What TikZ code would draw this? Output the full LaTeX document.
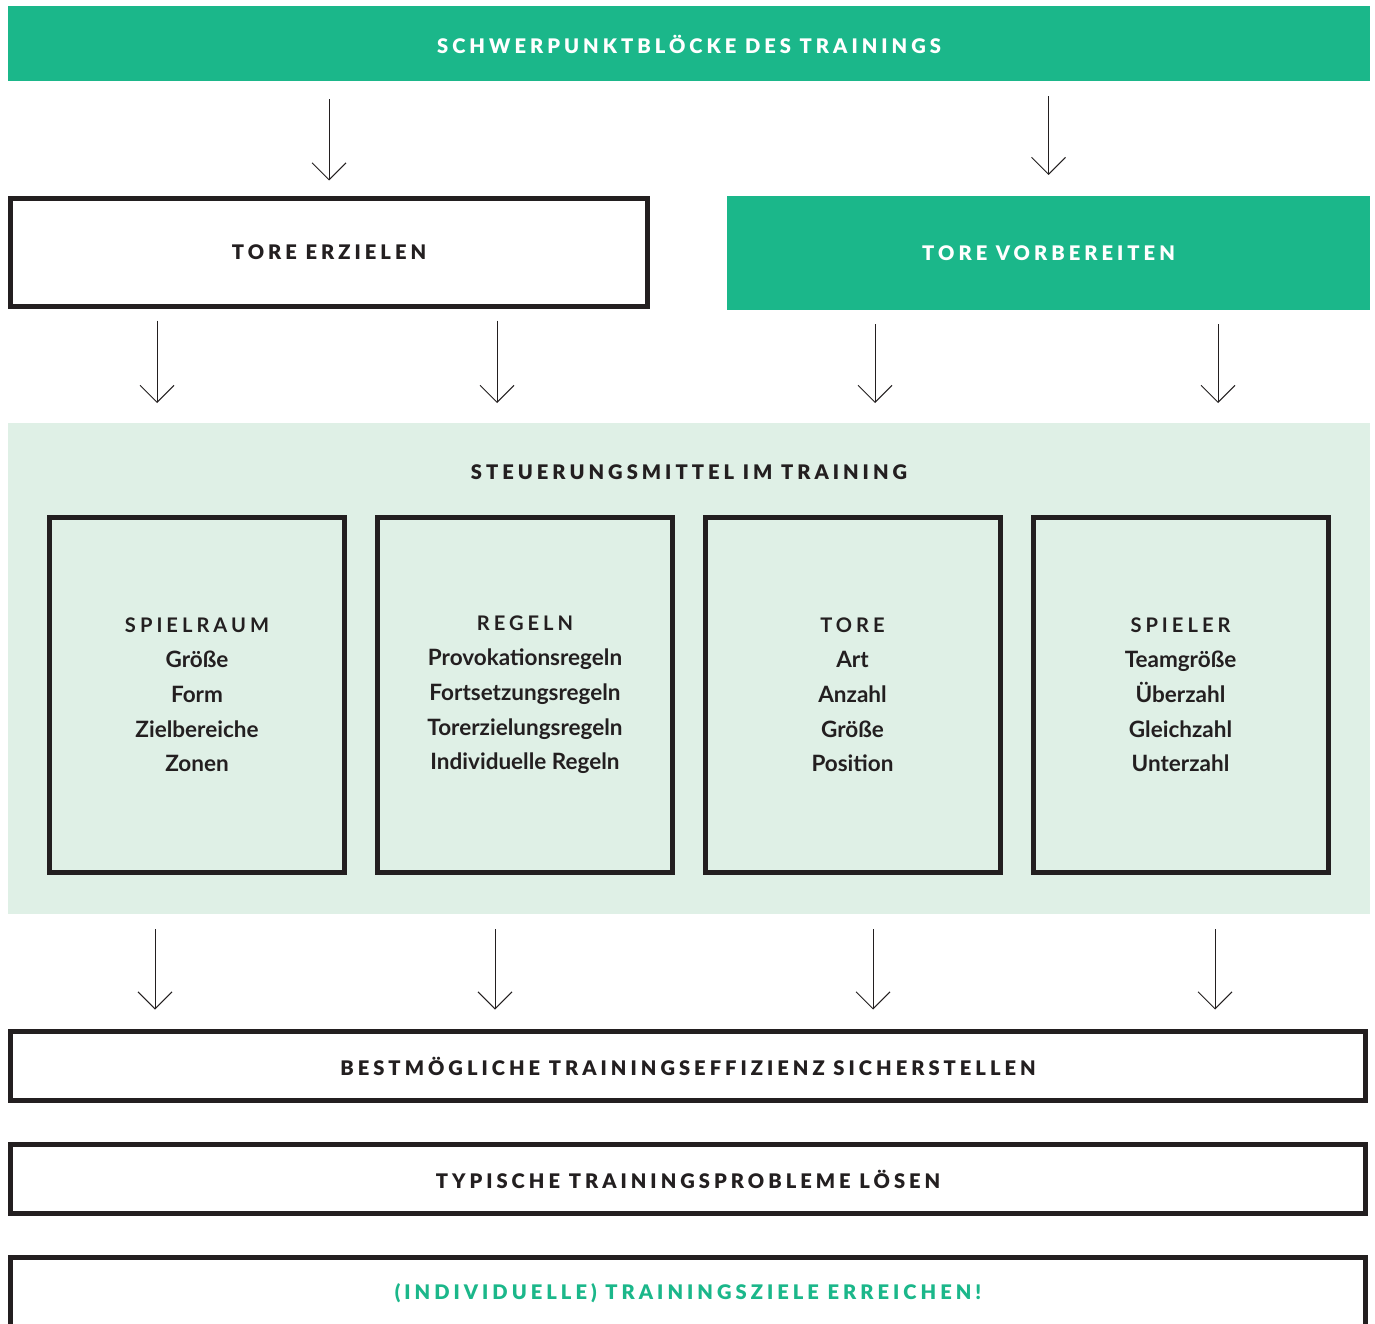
\documentclass[tikz,border=0pt]{standalone}
\usepackage{fontspec}
\setmainfont{Lato}
\newfontfamily\spaced{Lato Black}[LetterSpace=20]
\usetikzlibrary{arrows.meta}
\definecolor{tgreen}{HTML}{1BB78A}
\definecolor{pgreen}{HTML}{DFF0E6}
\definecolor{ink}{HTML}{231F20}
\begin{document}
\begin{tikzpicture}[x=1pt,y=-1pt,
  hdr/.style={font=\spaced\fontsize{20.1}{23}\selectfont},
  greenbar/.style={fill=tgreen, text=white, inner sep=0pt, outer sep=0pt, hdr},
  framebox/.style={draw=ink, line width=5pt, inner sep=0pt, outer sep=0pt, text=ink, hdr},
  colbox/.style={draw=ink, line width=5pt, inner sep=0pt, outer sep=0pt, text=ink,
     minimum width=295pt, minimum height=355pt, align=center,
     font=\bfseries\fontsize{22.5}{34.8}\selectfont},
  arr/.style={draw=ink, line width=1pt, -{Straight Barb[length=17pt,width=34pt,line width=1pt]}},
]
\clip (0,0) rectangle (1375,1324);
\useasboundingbox (0,0) rectangle (1375,1324);
\fill[white] (0,0) rectangle (1375,1324);

% top banner
\node[greenbar, minimum width=1362pt, minimum height=75pt] (top) at (689,44) {SCHWERPUNKTBLÖCKE DES TRAININGS};
% second row
\node[framebox, minimum width=637pt, minimum height=108pt] (te) at (329,252.5) {TORE ERZIELEN};
\node[greenbar, minimum width=643pt, minimum height=114pt] (tv) at (1048.5,253) {TORE VORBEREITEN};
% panel
\node[fill=pgreen, inner sep=0pt, outer sep=0pt, minimum width=1362pt, minimum height=491pt] (panel) at (689,668.5) {};
\node[hdr, text=ink, inner sep=0pt] (ptitle) at (689,472) {STEUERUNGSMITTEL IM TRAINING};

\node[colbox] (b1) at (197,695) {{\spaced\fontsize{20.1}{23}\selectfont SPIELRAUM}\\Größe\\Form\\Zielbereiche\\Zonen};
\node[colbox] (b2) at (525,695) {{\spaced\fontsize{20.1}{23}\selectfont REGELN}\\Provokationsregeln\\Fortsetzungsregeln\\Torerzielungsregeln\\Individuelle Regeln};
\node[colbox] (b3) at (852.5,695) {{\spaced\fontsize{20.1}{23}\selectfont TORE}\\Art\\Anzahl\\Größe\\Position};
\node[colbox] (b4) at (1180.5,695) {{\spaced\fontsize{20.1}{23}\selectfont SPIELER}\\Teamgröße\\Überzahl\\Gleichzahl\\Unterzahl};

% bottom boxes
\node[framebox, minimum width=1355pt, minimum height=69pt] (e1) at (688,1066) {BESTMÖGLICHE TRAININGSEFFIZIENZ SICHERSTELLEN};
\node[framebox, minimum width=1355pt, minimum height=69pt] (e2) at (688,1179) {TYPISCHE TRAININGSPROBLEME LÖSEN};
\node[framebox, minimum width=1355pt, minimum height=71pt, text=tgreen] (e3) at (688,1293) {(INDIVIDUELLE) TRAININGSZIELE ERREICHEN!};

% arrow columns
\coordinate (a1) at (157,0);
\coordinate (a2) at (497,0);
\coordinate (a3) at (875,0);
\coordinate (a4) at (1218,0);
\coordinate (c1) at (155,0);
\coordinate (c2) at (495,0);
\coordinate (c3) at (873,0);
\coordinate (c4) at (1215,0);

% arrows
\draw[arr, shorten <=18pt, shorten >=18pt] (top.south -| te.north) -- (te.north);
\draw[arr, shorten <=15pt, shorten >=21pt] (top.south -| tv.north) -- (tv.north);

\draw[arr, shorten <=14pt, shorten >=20pt] (te.south -| a1) -- (panel.north -| a1);
\draw[arr, shorten <=14pt, shorten >=20pt] (te.south -| a2) -- (panel.north -| a2);
\draw[arr, shorten <=14pt, shorten >=20pt] (tv.south -| a3) -- (panel.north -| a3);
\draw[arr, shorten <=14pt, shorten >=20pt] (tv.south -| a4) -- (panel.north -| a4);

\draw[arr, shorten <=15pt, shorten >=22pt] (panel.south -| c1) -- (e1.north -| c1);
\draw[arr, shorten <=15pt, shorten >=22pt] (panel.south -| c2) -- (e1.north -| c2);
\draw[arr, shorten <=15pt, shorten >=22pt] (panel.south -| c3) -- (e1.north -| c3);
\draw[arr, shorten <=15pt, shorten >=22pt] (panel.south -| c4) -- (e1.north -| c4);
\end{tikzpicture}
\end{document}
